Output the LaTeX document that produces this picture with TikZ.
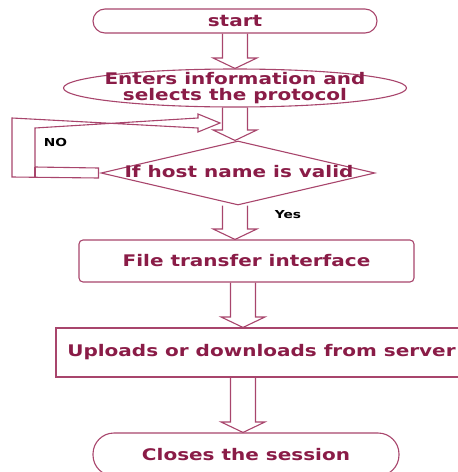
\documentclass[tikz,border=0pt]{standalone}
\usepackage{fontspec}
\setmainfont{DejaVu Sans}[FakeStretch=1.25]
\usetikzlibrary{shapes.geometric,calc}
\definecolor{txt}{HTML}{8A1C47}
\definecolor{ln}{HTML}{A8456C}
\tikzset{
  ln/.style={draw=ln, line width=1.1pt, line join=miter},
  lbl/.style={text=txt, font=\fontsize{16}{19}\selectfont\bfseries, inner sep=0pt, align=center},
  small/.style={text=black, font=\fontsize{11}{13}\selectfont\bfseries, inner sep=0pt},
  term/.style={ln, rectangle, rounded corners=#1, inner sep=0pt},
  boxx/.style={ln, rectangle, inner sep=0pt},
}
\newcommand\blockarr[3]{%
  \draw[ln] let \p1=(#1), \p2=(#2), \p3=(#3,0) in
    (\x3-12.5pt,\y1) -- (\x3-12.5pt,\y2+10.5pt) -- (\x3-22pt,\y2+10.5pt) -- (\x3,\y2)
    -- (\x3+22pt,\y2+10.5pt) -- (\x3+12.5pt,\y2+10.5pt) -- (\x3+12.5pt,\y1);}
\begin{document}
\begin{tikzpicture}[x=1pt,y=-1pt]
\useasboundingbox (0,0) rectangle (458,472);
\clip (0,0) rectangle (458,472);
% nodes
\node[term=12pt, lbl, minimum width=284pt, minimum height=24pt] (start) at (235,21) {start};
\node[ln, ellipse, minimum width=343pt, minimum height=38pt, inner sep=0pt] (ell) at (235,88) {};
\node[lbl] (elltext) at (235,88) {Enters information and\\[-3pt]selects the protocol};
\node[ln, diamond, minimum width=274pt, minimum height=64pt, inner sep=0pt] (dec) at (238,173) {};
\node[lbl] (dectext) at (239,172) {If host name is valid};
\node[term=4pt, lbl, minimum width=335pt, minimum height=42pt] (file) at (246.5,261) {File transfer interface};
\node[boxx, lbl, minimum width=411pt, minimum height=49pt] (up) at (261.5,352.5) {Uploads or downloads from server};
\node[term=21pt, lbl, minimum width=306pt, minimum height=43pt] (close) at (246,454.5) {Closes the session};
\node[small] (no) at (55.5,142) {NO};
\node[small] (yes) at (288,215) {Yes};
\coordinate (loopin) at (220,123);
% block arrows
\blockarr{start.south}{ell.north}{235}
\blockarr{ell.south}{dec.north}{235}
\blockarr{dec.south}{file.north}{235}
\blockarr{file.south}{up.north}{243}
\blockarr{up.south}{close.north}{243}
% NO loop arrow
\draw[ln] let \p1=(dec.west), \p2=(loopin) in
  (\x1-2pt,\y1+5pt) -- (35,167) -- (35,128) -- (\x2-22pt,\y2+5pt) -- (\x2-22pt,\y2+9pt)
  -- (\x2,\y2) -- (\x2-22pt,\y2-9pt) -- (\x2-22pt,\y2-5pt) -- (12,118) -- (12,177)
  -- (\x1-2pt,\y1-5pt) -- cycle;
\draw[ln] (35,167) -- (35,177);
\end{tikzpicture}
\end{document}
